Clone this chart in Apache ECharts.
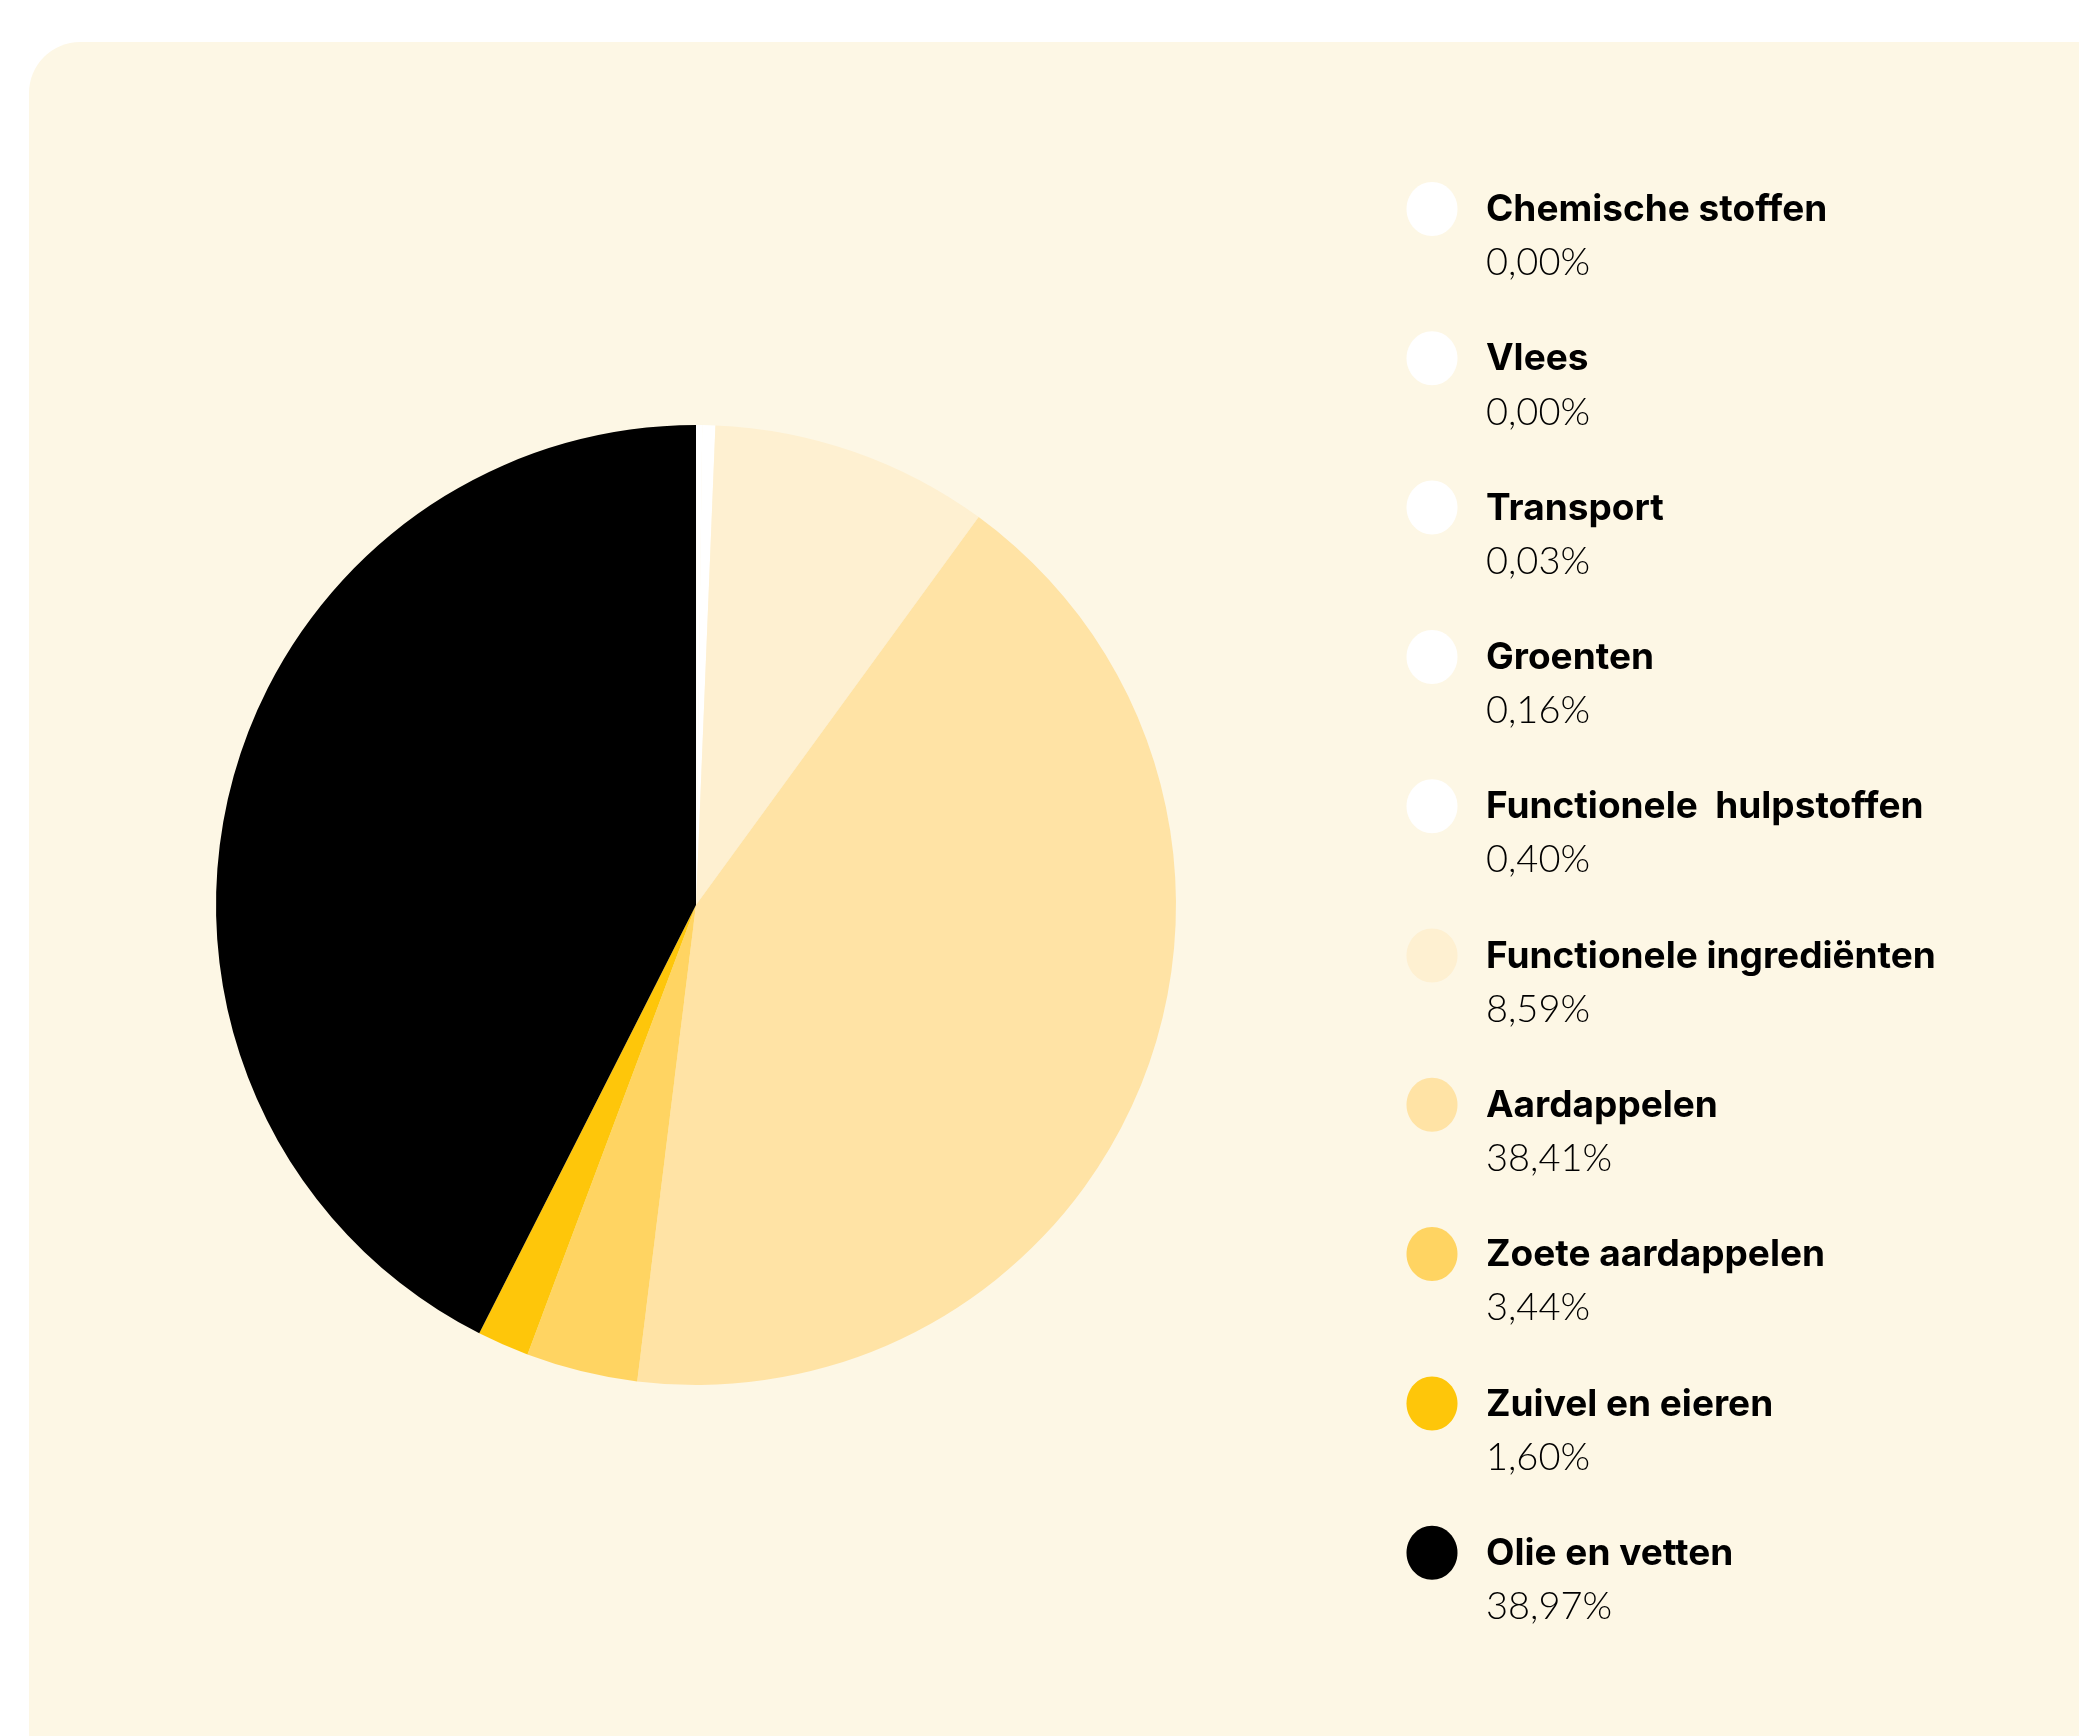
<!DOCTYPE html>
<html>
<head>
<meta charset="utf-8">
<title>Verdeling ingrediënten</title>
<script src="https://cdn.jsdelivr.net/npm/echarts@6/dist/echarts.min.js"></script>
<style>
  html, body { margin: 0; padding: 0; background: #ffffff; }
  #chart { width: 2079px; height: 1736px; }
</style>
</head>
<body>
<div id="chart"></div>
<script>
// Categories and their share (%) of the total
const categories = [
  'Chemische stoffen',
  'Vlees',
  'Transport',
  'Groenten',
  'Functionele  hulpstoffen',
  'Functionele ingrediënten',
  'Aardappelen',
  'Zoete aardappelen',
  'Zuivel en eieren',
  'Olie en vetten'
];
const shares = [0.00, 0.00, 0.03, 0.16, 0.40, 8.59, 38.41, 3.44, 1.60, 38.97];
const sliceColors = [
  '#ffffff', '#ffffff', '#ffffff', '#ffffff', '#ffffff',
  '#fef0d1', '#ffe3a5', '#ffd462', '#fec60a', '#000000'
];

const fmtPct = v => v.toFixed(2).replace('.', ',') + '%';

// Key on the right: marker, bold name and the share underneath
const KEY_X = 1432, KEY_Y = 209, KEY_STEP = 149.3, TEXT_X = 1486;
const keyItems = [];
categories.forEach((name, i) => {
  const y = KEY_Y + i * KEY_STEP;
  keyItems.push({
    type: 'ellipse',
    silent: true,
    shape: { cx: KEY_X, cy: y, rx: 25.5, ry: 27 },
    style: { fill: sliceColors[i] }
  });
  keyItems.push({
    type: 'text',
    silent: true,
    x: TEXT_X,
    y: y + 1,
    style: {
      text: name,
      fill: '#000000',
      font: '700 37px Inter',
      textVerticalAlign: 'middle'
    }
  });
  keyItems.push({
    type: 'text',
    silent: true,
    x: TEXT_X,
    y: y + 54,
    style: {
      text: fmtPct(shares[i]),
      fill: '#000000',
      font: '300 38px Lato',
      textVerticalAlign: 'middle'
    }
  });
});

const chart = echarts.init(document.getElementById('chart'), null, { renderer: 'canvas' });

chart.setOption({
  backgroundColor: '#ffffff',
  animation: false,
  graphic: [{
    type: 'rect',
    z: -10,
    silent: true,
    shape: { x: 29, y: 42, width: 2150, height: 1760, r: 51 },
    style: { fill: '#fdf7e5' }
  }].concat(keyItems),
  series: [{
    type: 'pie',
    center: [696, 905],
    radius: [0, 480],
    startAngle: 90,
    clockwise: true,
    avoidLabelOverlap: false,
    label: { show: false },
    labelLine: { show: false },
    emphasis: { disabled: true },
    itemStyle: { borderWidth: 0 },
    data: categories.map((c, i) => ({
      name: c,
      value: shares[i],
      itemStyle: { color: sliceColors[i] }
    }))
  }]
});
</script>
</body>
</html>
